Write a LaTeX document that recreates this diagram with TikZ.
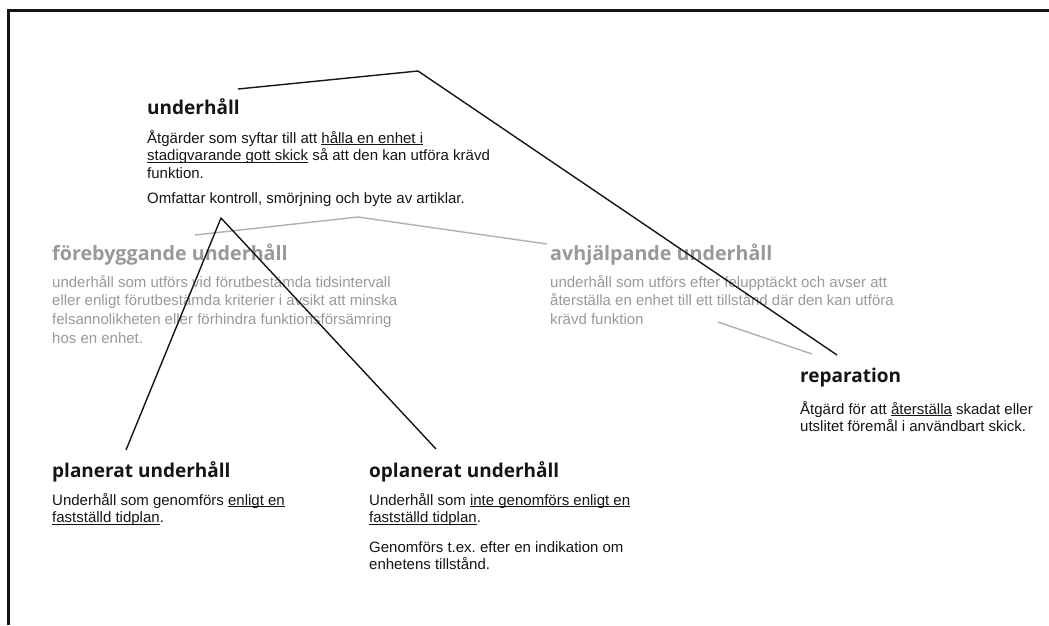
\documentclass[tikz,border=0pt]{standalone}
\usepackage{fontspec}
\setmainfont{Liberation Sans}
\newfontfamily\headfont{Open Sans}[BoldFont={Open Sans Bold}]
\newcommand{\ulx}[1]{\underline{\smash{#1}}}
\frenchspacing
\definecolor{txt}{HTML}{151515}
\definecolor{faint}{HTML}{999999}
\definecolor{faintline}{HTML}{B0B0B0}
\tikzset{
  head/.style={font=\headfont\bfseries\fontsize{19}{22}\selectfont, anchor=base west, inner sep=0pt, text=txt},
  body/.style={font=\fontsize{15}{17.5}\selectfont, align=left, anchor=north west, inner sep=0pt, text=txt},
  fhead/.style={head, font=\headfont\bfseries\fontsize{19.7}{22}\selectfont, text=faint},
  fbody/.style={body, font=\fontsize{15}{18.6}\selectfont, text=faint},
  link/.style={draw=txt, line width=1.4pt, line join=round},
  flink/.style={draw=faintline, line width=1.4pt, line join=round},
}
\begin{document}
\begin{tikzpicture}[x=1pt,y=-1pt]
\useasboundingbox (0,0) rectangle (1049,625);
% frame along the top and left edges
\draw[line width=2.6pt, draw=txt] (8.5,625) -- (8.5,10.5) -- (1049,10.5);

% faint links between the two maintenance kinds
\coordinate (fa) at (195,235);
\coordinate (fp) at (358,217);
\coordinate (fb) at (547,244);
\coordinate (ga) at (718,322);
\coordinate (gb) at (812,354);

% general term
\node[head] (uh) at (147,114) {underhåll};
\node[body] (ub1) at (147,129.75) {\strut Åtgärder som syftar till att \ulx{hålla en enhet i}\\
\ulx{stadigvarande gott skick} så att den kan utföra krävd\\
funktion.};
\node[body] (ub2) at (147,190.75) {\strut Omfattar kontroll, smörjning och byte av artiklar.};

% preventive / corrective (faint)
\node[fhead] (fu) at (52,260) {förebyggande underhåll};
\node[fbody] (fub) at (52,274) {\strut underhåll som utförs vid förutbestämda tidsintervall\\
eller enligt förutbestämda kriterier i avsikt att minska\\
felsannolikheten eller förhindra funktionsförsämring\\
hos en enhet.};
\node[fhead] (au) at (550,260) {avhjälpande underhåll};
\node[fbody] (aub) at (550,274) {\strut underhåll som utförs efter felupptäckt och avser att\\
återställa en enhet till ett tillstånd där den kan utföra\\
krävd funktion};

\draw[flink] (fa) -- (fp) -- (fb);
\draw[flink] (ga) -- (gb);

% repair
\node[head] (rep) at (800,382) {reparation};
\node[body] (repb) at (800,400.75) {\strut Åtgärd för att \ulx{återställa} skadat eller\\
utslitet föremål i användbart skick.};

% planned / unplanned
\node[head] (pu) at (52,477) {planerat underhåll};
\node[body] (pub) at (52,492.75) {\strut Underhåll som genomförs \ulx{enligt en}\\
\ulx{fastställd tidplan}.};
\node[head] (ou) at (369,477) {oplanerat underhåll};
\node[body] (oub1) at (369,492.75) {\strut Underhåll som \ulx{inte genomförs enligt en}\\
\ulx{fastställd tidplan}.};
\node[body] (oub2) at (369,539.75) {\strut Genomförs t.ex. efter en indikation om\\
enhetens tillstånd.};

% dark links
\coordinate (ua) at (238,89);
\coordinate (up) at (418,71);
\coordinate (ue) at (837,355);
\coordinate (pa) at (126,450);
\coordinate (pp) at (221,218);
\coordinate (pe) at (436,449);
\draw[link] (ua) -- (up) -- (ue);
\draw[link] (pa) -- (pp) -- (pe);
\end{tikzpicture}
\end{document}
